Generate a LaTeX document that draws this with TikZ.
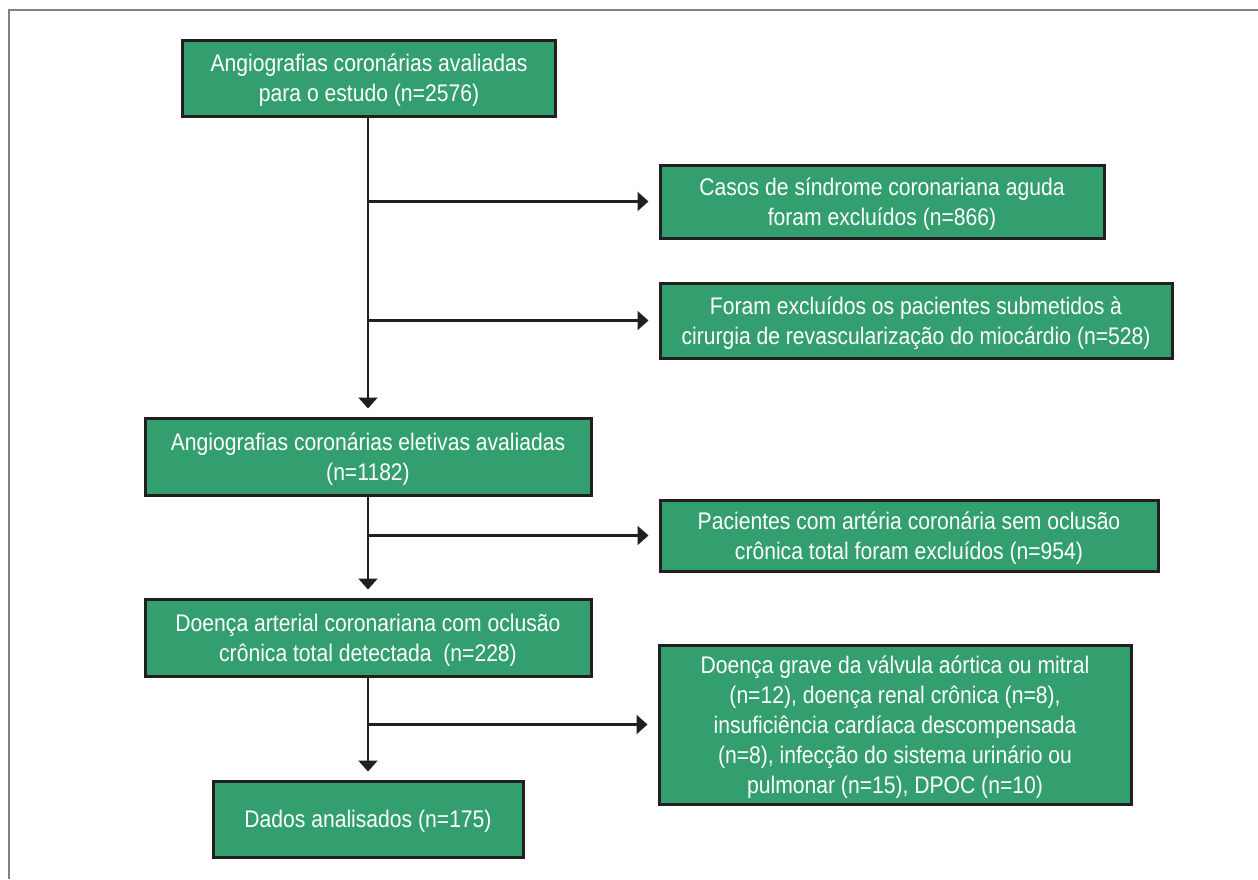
\documentclass[tikz,border=0pt]{standalone}
\usepackage{fontspec}
\setmainfont{Liberation Sans}[FakeStretch=0.88]
\usetikzlibrary{arrows.meta}
\definecolor{boxgreen}{RGB}{51,158,110}
\definecolor{linedark}{RGB}{35,31,32}
\definecolor{framegray}{RGB}{130,130,130}
\tikzset{
  flowbox/.style={draw=linedark, line width=1.5pt, fill=boxgreen, text=white,
    align=center, inner sep=0pt, font=\fontsize{12}{15}\selectfont,
    text depth=-0.5pt},
  arr/.style={draw=linedark, line width=1.1pt,
    -{Triangle[length=5.5pt,width=9.5pt]}, shorten >=4pt},
}
\begin{document}
\begin{tikzpicture}[x=0.5pt,y=-0.5pt]
\useasboundingbox (0,0) rectangle (1258,879);
% frame
\draw[framegray, line width=1pt] (9,879) -- (9,10) -- (1258,10);

% main column
\node[flowbox, minimum width=186.5pt, minimum height=38pt] (eval) at (369,78)
  {Angiografias coronárias avaliadas\\para o estudo (n=2576)};
\node[flowbox, minimum width=223pt, minimum height=38.5pt] (elect) at (368,456.5)
  {Angiografias coronárias eletivas avaliadas\\(n=1182)};
\node[flowbox, minimum width=223pt, minimum height=38.5pt] (cto) at (368,637.5)
  {Doença arterial coronariana com oclusão\\crônica total detectada~ (n=228)};
\node[flowbox, minimum width=155pt, minimum height=38pt] (data) at (368,819)
  {Dados analisados (n=175)};

% exclusions
\node[flowbox, minimum width=222pt, minimum height=36.5pt] (acs) at (882,201.5)
  {Casos de síndrome coronariana aguda\\foram excluídos (n=866)};
\node[flowbox, minimum width=256pt, minimum height=37.5pt] (cabg) at (916,320.5)
  {Foram excluídos os pacientes submetidos à\\cirurgia de revascularização do miocárdio (n=528)};
\node[flowbox, minimum width=249pt, minimum height=35.5pt] (nocto) at (909,535.5)
  {Pacientes com artéria coronária sem oclusão\\crônica total foram excluídos (n=954)};
\node[flowbox, minimum width=236pt, minimum height=79.5pt] (other) at (895,724.5)
  {Doença grave da válvula aórtica ou mitral\\(n=12), doença renal crônica (n=8),\\insuficiência cardíaca descompensada\\(n=8), infecção do sistema urinário ou\\pulmonar (n=15), DPOC (n=10)};

% connectors
\draw[arr] (eval.south -| elect.north) -- (elect.north);
\draw[arr] (elect.south) -- (cto.north);
\draw[arr] (cto.south) -- (data.north);
\draw[arr, shorten >=5pt] (elect.north |- acs.west) -- (acs.west);
\draw[arr, shorten >=5pt] (elect.north |- cabg.west) -- (cabg.west);
\draw[arr, shorten >=5pt] (elect.north |- nocto.west) -- (nocto.west);
\draw[arr, shorten >=5pt] (elect.north |- other.west) -- (other.west);
\end{tikzpicture}
\end{document}
